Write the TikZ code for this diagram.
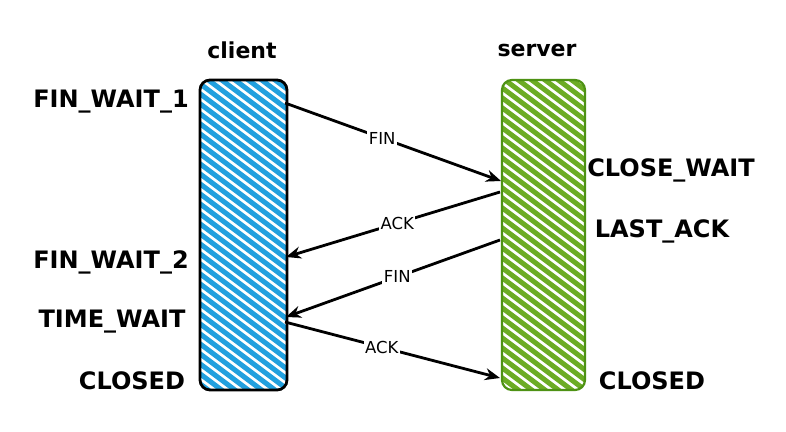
\documentclass[tikz,border=0pt]{standalone}
\usepackage{fontspec}
\setmainfont{DejaVu Sans}
\newfontfamily\bigfont{DejaVu Sans}
\usetikzlibrary{arrows.meta}
\definecolor{cblue}{RGB}{34,160,222}
\definecolor{sgreen}{RGB}{108,172,36}
\definecolor{sgreendark}{RGB}{78,146,20}
\tikzset{
  state/.style={font=\bigfont\bfseries\fontsize{24}{28}\selectfont, inner sep=0pt},
  head/.style={font=\bigfont\bfseries\fontsize{22}{26}\selectfont, inner sep=0pt},
  msg/.style={-{Stealth[length=15pt,width=12pt]}, line width=2.8pt, black},
  msglabel/.style={fill=white, inner sep=1.5pt, font=\fontsize{16.5}{19}\selectfont},
}
\begin{document}
\begin{tikzpicture}[x=1pt,y=-1pt]
\useasboundingbox[fill=white] (0,0) rectangle (786,431);
% client box hatching
\begin{scope}
  \clip[rounded corners=10pt] (200,80) rectangle (287,390);
  \foreach \k in {-120,-110,...,320} {
    \draw[cblue, line width=5pt] (195,80+\k) -- ++(100,75);
  }
\end{scope}
\node[draw=black, line width=2.8pt, rounded corners=10pt, minimum width=87pt, minimum height=310pt, inner sep=0pt] (client) at (243.5,235) {};
% server box hatching
\begin{scope}
  \clip[rounded corners=10pt] (502,80) rectangle (585,390);
  \foreach \k in {-120,-110,...,320} {
    \draw[sgreen, line width=5pt] (497,84+\k) -- ++(100,75);
  }
\end{scope}
\node[draw=sgreendark, line width=2.2pt, rounded corners=10pt, minimum width=83pt, minimum height=310pt, inner sep=0pt] (server) at (543.5,235) {};
% headings
\node[head] (hc) at (242,50) {client};
\node[head] (hs) at (537,50) {server};
% client states
\node[state] (fw1) at (111,102) {FIN\_WAIT\_1};
\node[state] (fw2) at (111,262) {FIN\_WAIT\_2};
\node[state] (tw) at (112,322) {TIME\_WAIT};
\node[state] (cc) at (132,381) {CLOSED};
% server states
\node[state] (cw) at (671,170) {CLOSE\_WAIT};
\node[state] (la) at (662,231) {LAST\_ACK};
\node[state] (sc) at (652,381) {CLOSED};
% attachment points
\coordinate (c1) at (285,103);
\coordinate (s1) at (501,181);
\coordinate (s2) at (500,192);
\coordinate (c2) at (286,257);
\coordinate (s3) at (500,240);
\coordinate (c3) at (286,317);
\coordinate (c4) at (285,322);
\coordinate (s4) at (500,378);
% messages
\draw[msg] (c1) -- node[msglabel, pos=0.45] {FIN} (s1);
\draw[msg] (s2) -- node[msglabel, pos=0.48] {ACK} (c2);
\draw[msg] (s3) -- node[msglabel, pos=0.48] {FIN} (c3);
\draw[msg] (c4) -- node[msglabel, pos=0.45] {ACK} (s4);
\end{tikzpicture}
\end{document}
